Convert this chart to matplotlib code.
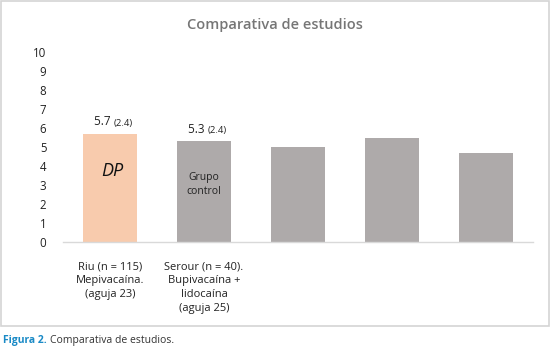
import matplotlib
matplotlib.use("Agg")
import matplotlib.pyplot as plt
from matplotlib.patches import Rectangle

# ---- data ----
categories = ["Riu (n = 115)\nMepivacaína.\n(aguja 23)",
              "Serour (n = 40).\nBupivacaína +\nlidocaína\n(aguja 25)",
              "", "", ""]
values = [5.7, 5.3, 5.0, 5.5, 4.7]
bar_colors = ["#f8cbad", "#aeaaaa", "#aeaaaa", "#aeaaaa", "#aeaaaa"]
mean_labels = ["5.7", "5.3"]
sd_labels = ["(2.4)", "(2.4)"]
yticks = list(range(0, 11))
title = "Comparativa de estudios"

plt.rcParams['font.family'] = ['Open Sans', 'DejaVu Sans']

W, H = 550, 347
fig = plt.figure(figsize=(W / 100, H / 100), dpi=100)

# outer grey frame
fig.patches.append(Rectangle((1 / W, (H - 326) / H), 548 / W, 325 / H,
                             transform=fig.transFigure, fill=False,
                             edgecolor="#d4d4d4", linewidth=1.2))

ax = fig.add_axes([63 / W, (H - 242) / H, 470 / W, 190 / H])
x = list(range(len(values)))
ax.bar(x, values, width=0.565, color=bar_colors, zorder=2)
ax.set_xlim(-0.5, len(values) - 0.5)
ax.set_ylim(0, 10)
ax.set_yticks(yticks)
ax.set_yticklabels([str(t) for t in yticks], fontsize=8.3, color="#222222")
ax.set_xticks(x)
ax.set_xticklabels(categories, fontsize=8, color="#222222", linespacing=1.35,
                   va="top")
ax.tick_params(axis="both", length=0)
ax.tick_params(axis="y", pad=12)
ax.tick_params(axis="x", pad=14)
for s in ["top", "right", "left"]:
    ax.spines[s].set_visible(False)
ax.spines["bottom"].set_color("#d9d9d9")
ax.spines["bottom"].set_linewidth(1.0)
ax.patch.set_alpha(0)

# mean (sd) annotations
for i, (m, s) in enumerate(zip(mean_labels, sd_labels)):
    ax.annotate(m + " ", (x[i], values[i]), xytext=(2.5, 4),
                textcoords="offset points", ha="right", va="bottom",
                fontsize=8.5, color="#222222")
    ax.annotate(s, (x[i], values[i]), xytext=(2.5, 4.4),
                textcoords="offset points", ha="left", va="bottom",
                fontsize=6.8, color="#222222")

# inner labels
ax.text(x[0] + 0.02, 3.74, "DP", ha="center", va="center", fontsize=13,
        style="italic", color="#111111")
ax.text(x[1], 3.02, "Grupo\ncontrol", ha="center", va="center", fontsize=7.5,
        color="#222222", linespacing=1.45)

fig.text(0.5, (H - 25) / H, title, ha="center", va="center", fontsize=10.5,
         color="#767676", fontweight="semibold")

# caption
fig.canvas.draw()
t1 = fig.text(3 / W, (H - 340) / H, "Figura 2.", ha="left", va="center",
              fontsize=7.5, color="#1a8ac6", fontweight="bold")
fig.canvas.draw()
bb = t1.get_window_extent()
fig.text(bb.x1 / W + 3 / W, (H - 340) / H, "Comparativa de estudios.",
         ha="left", va="center", fontsize=7.5, color="#333333")

fig.savefig("out.png", dpi=100)
